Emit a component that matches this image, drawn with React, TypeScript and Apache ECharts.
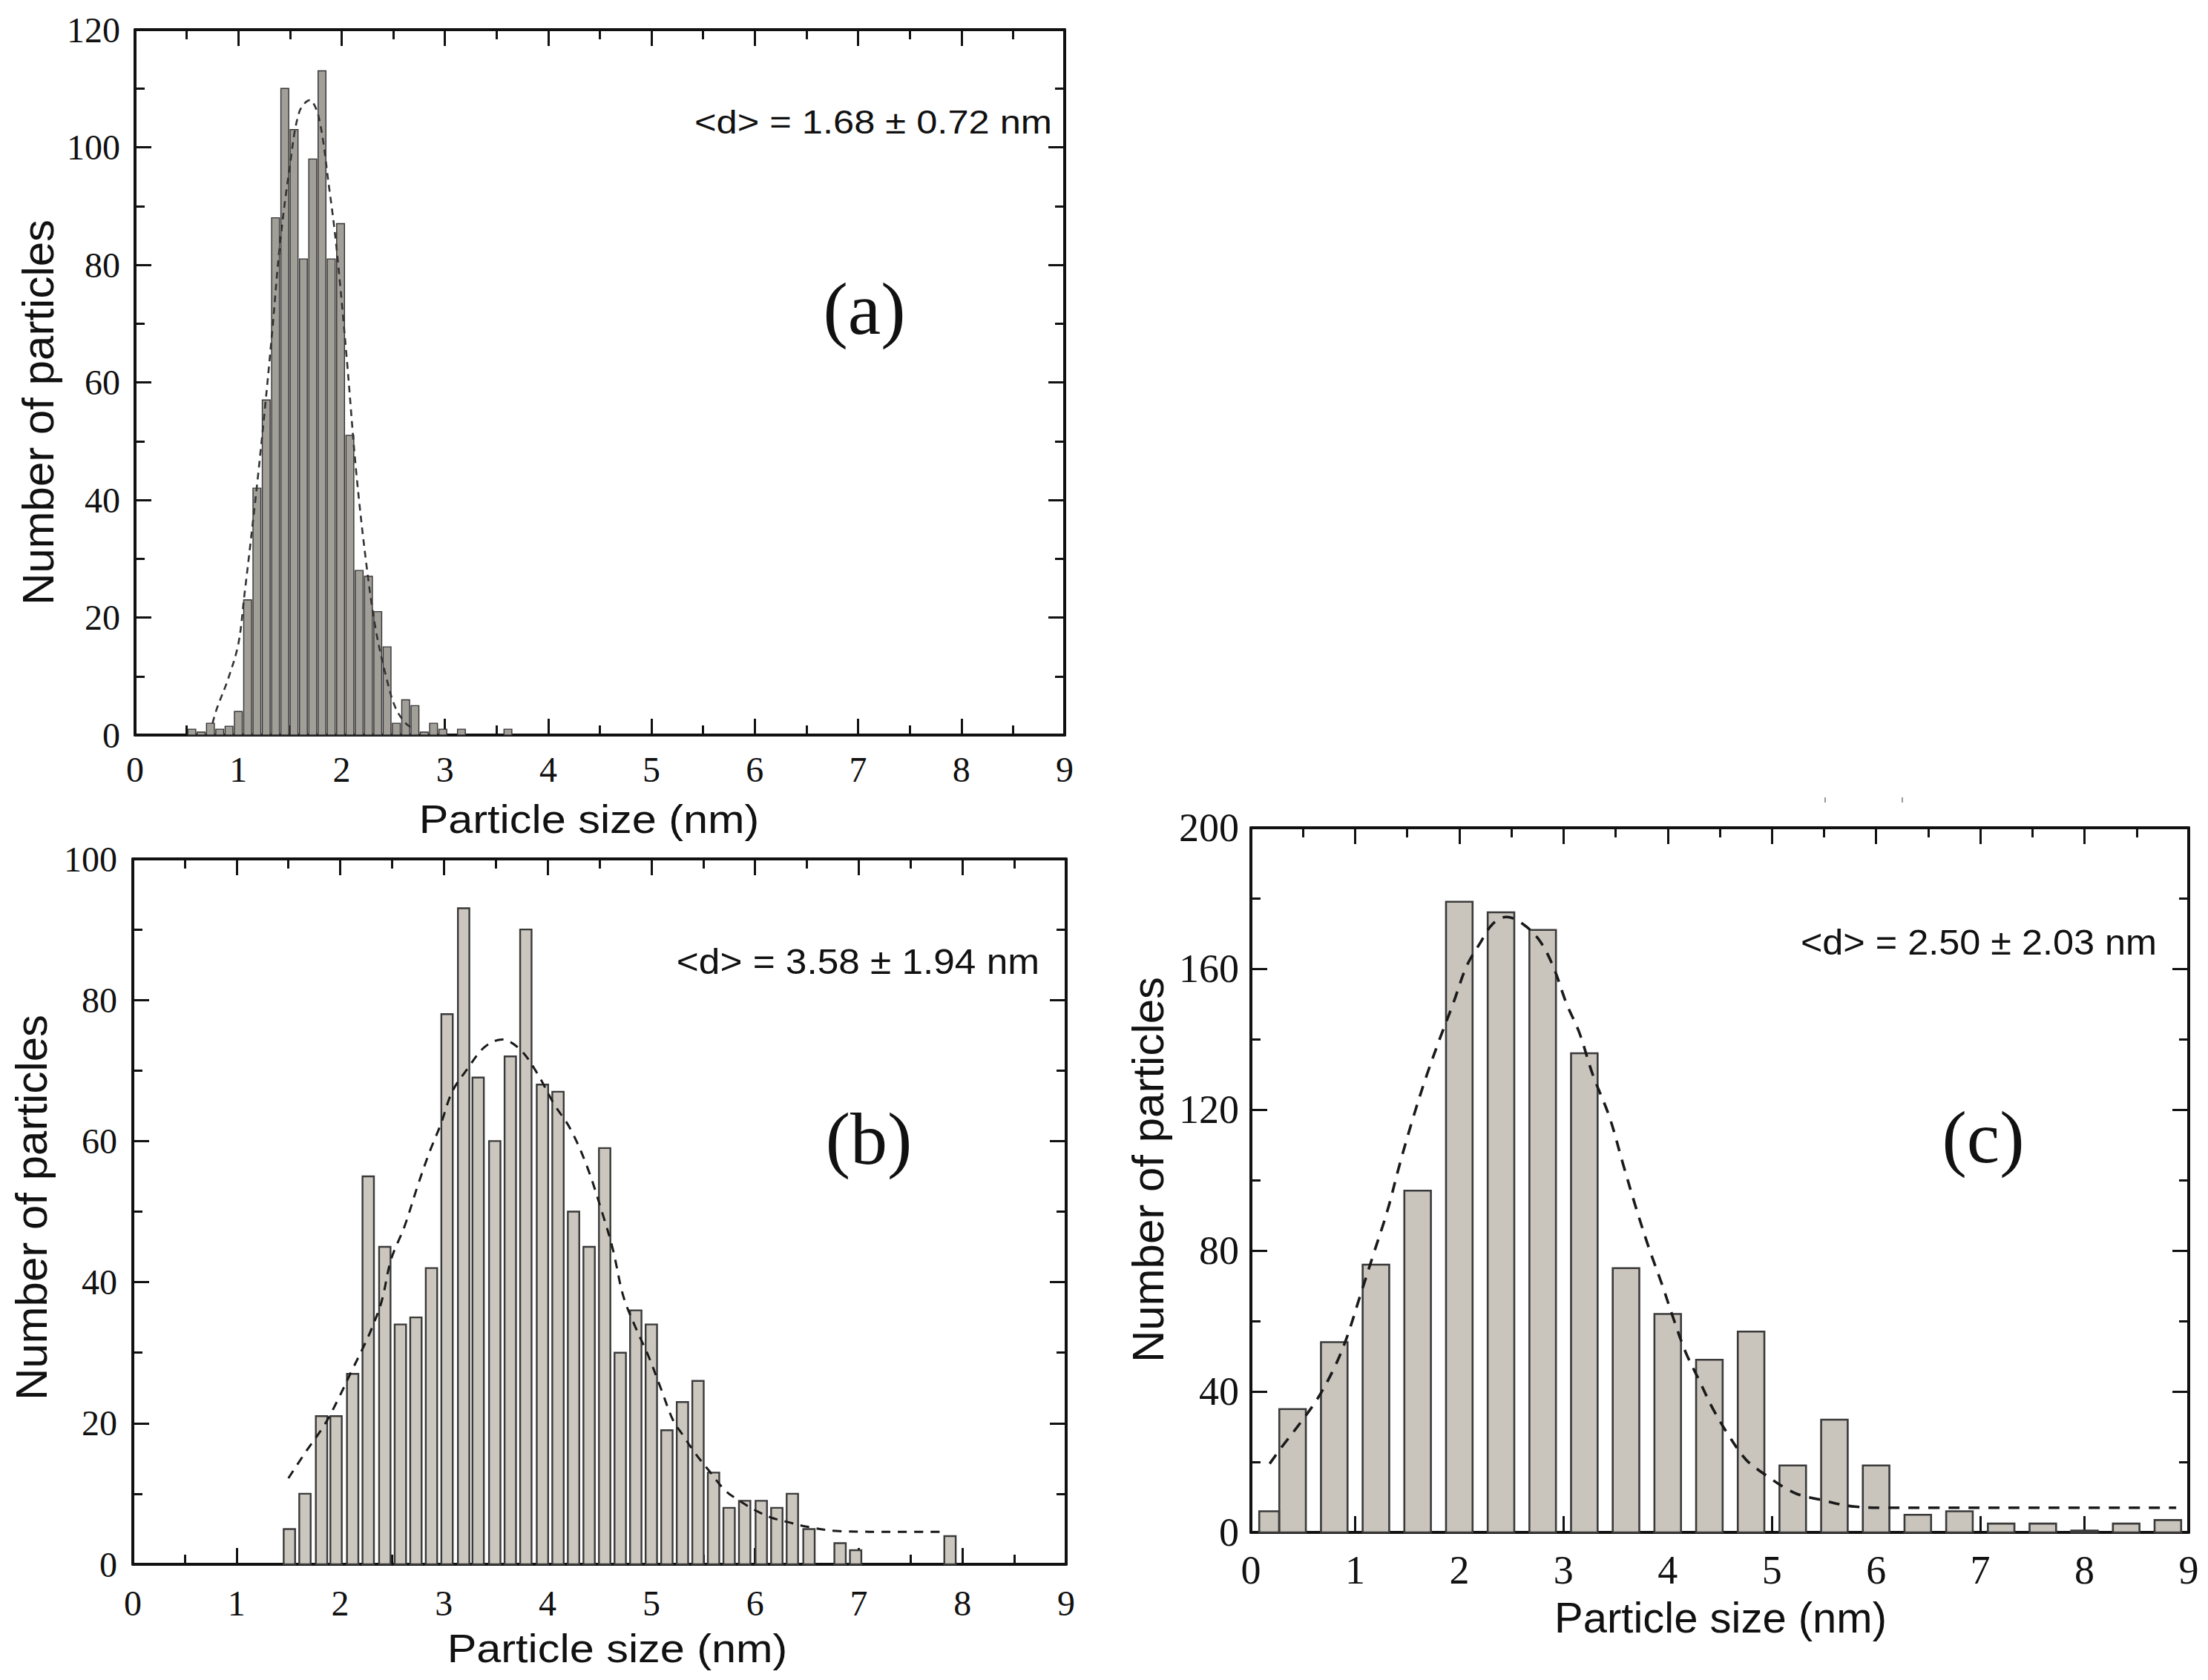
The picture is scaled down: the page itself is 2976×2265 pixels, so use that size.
import React, { useEffect, useRef } from "react";
import * as echarts from "echarts";

// ---------- Panel (a) ----------
const sizeA = [0.55, 0.64, 0.73, 0.82, 0.91, 1.0, 1.09, 1.18, 1.27, 1.36, 1.45, 1.54, 1.63, 1.72, 1.81, 1.9, 1.99, 2.08, 2.17, 2.26, 2.35, 2.44, 2.53, 2.62, 2.71, 2.8, 2.89, 2.98, 3.16, 3.61];
const countA = [1, 0.5, 2, 1, 1.5, 4, 23, 42, 57, 88, 110, 103, 81, 98, 113, 81, 87, 51, 28, 27, 21, 15, 2, 6, 5, 0.5, 2, 1, 1, 1];
const fitA = [
  [0.75, 2], [0.79, 4.4], [0.9, 9.5], [1.0, 15.5], [1.06, 24], [1.12, 33], [1.19, 44], [1.26, 56], [1.33, 69], [1.4, 83],
  [1.5, 97], [1.59, 106], [1.69, 108], [1.78, 105], [1.88, 93], [1.95, 83], [2.05, 64], [2.14, 45], [2.24, 29], [2.33, 18],
  [2.43, 10], [2.52, 4.7], [2.62, 2], [2.7, 1],
];
const noteA = "<d> = 1.68 ± 0.72 nm";

// ---------- Panel (b) ----------
const sizeB = [1.51, 1.66, 1.82, 1.96, 2.12, 2.27, 2.43, 2.58, 2.73, 2.88, 3.03, 3.19, 3.33, 3.49, 3.64, 3.79, 3.95, 4.1, 4.25, 4.4, 4.55, 4.7, 4.85, 5.0, 5.15, 5.3, 5.45, 5.6, 5.75, 5.9, 6.06, 6.21, 6.36, 6.52, 6.82, 6.97, 7.88];
const countB = [5, 10, 21, 21, 27, 55, 45, 34, 35, 42, 78, 93, 69, 60, 72, 90, 68, 67, 50, 45, 59, 30, 36, 34, 19, 23, 26, 13, 8, 9, 9, 8, 10, 5, 3, 2, 4];
const fitB = [
  [1.5, 12.2], [1.68, 16.2], [1.85, 19.8], [1.98, 23.4], [2.11, 27.4], [2.22, 30.7], [2.3, 33.3], [2.4, 37.3], [2.49, 43.2],
  [2.62, 47.9], [2.75, 53.8], [2.86, 58.4], [2.97, 62.4], [3.08, 67], [3.23, 70.3], [3.39, 73.3], [3.56, 74.4], [3.74, 72.9],
  [3.9, 69.6], [4.06, 65.3], [4.22, 61.7], [4.38, 56.4], [4.54, 49.2], [4.63, 44.6], [4.73, 38], [4.85, 33.5], [4.97, 29.6],
  [5.09, 25], [5.21, 20.4], [5.3, 18.4], [5.42, 15.8], [5.56, 13.2], [5.71, 10.5], [5.86, 8.9], [6.01, 7.6], [6.16, 6.6],
  [6.34, 5.9], [6.51, 5.3], [6.81, 4.7], [7.4, 4.6], [7.85, 4.6],
];
const noteB = "<d> = 3.58 ± 1.94 nm";

// ---------- Panel (c) ----------
const sizeC = [0.4, 0.8, 1.2, 1.6, 2.0, 2.4, 2.8, 3.2, 3.6, 4.0, 4.4, 4.8, 5.2, 5.6, 6.0, 6.4, 6.8, 7.2, 7.6, 8.0, 8.4, 8.8];
const countC = [35, 54, 76, 97, 179, 176, 171, 136, 75, 62, 49, 57, 19, 32, 19, 5, 6, 2.5, 2.5, 0.5, 2.5, 3.5];
const firstSizeC = [0.175];
const firstCountC = [6];
const fitC = [
  [0.18, 19.5], [0.29, 24], [0.48, 31.3], [0.64, 38], [0.8, 46.7], [0.92, 55.3], [1.05, 67.3], [1.18, 79.3], [1.31, 91.3],
  [1.43, 104.7], [1.56, 118], [1.69, 130], [1.82, 140.7], [1.94, 150], [2.07, 160.7], [2.2, 167.3], [2.32, 172.7],
  [2.45, 174.7], [2.61, 172.7], [2.77, 168], [2.9, 160.7], [3.03, 150], [3.15, 142], [3.28, 130], [3.44, 118], [3.57, 104.7],
  [3.69, 92.7], [3.82, 80.7], [3.95, 70], [4.04, 62], [4.17, 51.3], [4.3, 43.3], [4.43, 35.3], [4.59, 27.3], [4.75, 20.7],
  [4.92, 16.7], [5.21, 11.3], [5.46, 9.3], [5.8, 7.3], [6.1, 7], [6.54, 7], [7.46, 7], [8.88, 7],
];
const noteC = "<d> = 2.50 ± 2.03 nm";

// ---------- axis settings ----------
const xRange = { min: 0, max: 9, interval: 1 };
const yRanges = [
  { min: 0, max: 120, interval: 20 },
  { min: 0, max: 100, interval: 20 },
  { min: 0, max: 200, interval: 40 },
];
const panelLabels = ["(a)", "(b)", "(c)"];
const xTitle = "Particle size (nm)";
const yTitle = "Number of particles";

const INK = "#111";
const SERIF = "'Liberation Serif', 'Times New Roman', serif";
const SANS = "'Liberation Sans', Arial, sans-serif";

function pairs(xs: number[], ys: number[]) {
  return xs.map((x, i) => [x, ys[i]]);
}

function baseAxis(showLabel: boolean, margin: number, fontSize: number) {
  return {
    axisLine: { show: true, onZero: false, lineStyle: { color: INK, width: 4 } },
    axisTick: { show: true, inside: true, length: 22, lineStyle: { color: INK, width: 3 } },
    minorTick: { show: true, splitNumber: 2, length: 13, lineStyle: { color: INK, width: 3 } },
    splitLine: { show: false },
    minorSplitLine: { show: false },
    axisLabel: {
      show: showLabel,
      margin,
      fontFamily: SERIF,
      fontSize,
      color: INK,
      showMinLabel: true,
      showMaxLabel: true,
    },
  };
}

function barSeries(gi: number, data: number[][], widthNm: number, fill: string, stroke: string, lw: number) {
  return {
    type: "custom",
    xAxisIndex: gi * 2,
    yAxisIndex: gi * 2,
    data,
    encode: { x: 0, y: 1 },
    z: 2,
    renderItem: (_params: any, api: any) => {
      const x = api.value(0);
      const y = api.value(1);
      const p0 = api.coord([x - widthNm / 2, y]);
      const p1 = api.coord([x + widthNm / 2, 0]);
      return {
        type: "rect",
        shape: { x: p0[0], y: p0[1], width: p1[0] - p0[0], height: p1[1] - p0[1] },
        style: { fill, stroke, lineWidth: lw },
      };
    },
  };
}

function fitSeries(gi: number, data: number[][], dash: number[], width: number, color: string) {
  return {
    type: "line",
    xAxisIndex: gi * 2,
    yAxisIndex: gi * 2,
    data,
    symbol: "none",
    showSymbol: false,
    smooth: 0.35,
    z: 5,
    lineStyle: { color, width, type: dash },
  };
}

function buildOption() {
  const grids = [
    { left: 182, top: 40, width: 1253, height: 951 },
    { left: 179, top: 1158, width: 1258, height: 951 },
    { left: 1686, top: 1116, width: 1264, height: 950 },
  ];
  const xMargins = [22, 28, 24];
  const yMargins = [20, 21, 16];
  const labelSizes = [48, 48, 54];

  const xAxis: any[] = [];
  const yAxis: any[] = [];
  for (let g = 0; g < 3; g++) {
    xAxis.push({ type: "value", gridIndex: g, position: "bottom", ...xRange, ...baseAxis(true, xMargins[g], labelSizes[g]) });
    xAxis.push({ type: "value", gridIndex: g, position: "top", ...xRange, ...baseAxis(false, 0, labelSizes[g]) });
    yAxis.push({ type: "value", gridIndex: g, position: "left", ...yRanges[g], ...baseAxis(true, yMargins[g], labelSizes[g]) });
    yAxis.push({ type: "value", gridIndex: g, position: "right", ...yRanges[g], ...baseAxis(false, 0, labelSizes[g]) });
  }

  const series = [
    barSeries(0, pairs(sizeA, countA), 0.076, "#a29f99", "#333333", 1.4),
    fitSeries(0, fitA, [9, 7], 2.6, "#333"),
    barSeries(1, pairs(sizeB, countB), 0.11, "#cbc7bf", "#3a3a3a", 2.4),
    fitSeries(1, fitB, [12, 10], 3, "#1a1a1a"),
    barSeries(2, pairs(sizeC, countC), 0.255, "#c9c5bd", "#3a3a3a", 2.6),
    barSeries(2, pairs(firstSizeC, firstCountC), 0.19, "#c9c5bd", "#3a3a3a", 2.6),
    fitSeries(2, fitC, [15, 12], 3.6, "#1a1a1a"),
  ];

  const txt = (text: string, x: number, y: number, fontSize: number, family: string, align: string, extra: any = {}) => ({
    type: "text",
    x,
    y,
    z: 10,
    ...extra,
    style: { text, fontSize, fontFamily: family, fill: INK, textAlign: align, textVerticalAlign: "middle" },
  });

  const graphic = [
    // y titles
    txt(yTitle, 51, 556, 60, SANS, "center", { rotation: Math.PI / 2 }),
    txt(yTitle, 42, 1628, 60, SANS, "center", { rotation: Math.PI / 2 }),
    txt(yTitle, 1547, 1577, 60, SANS, "center", { rotation: Math.PI / 2 }),
    // x titles
    txt(xTitle, 794, 1104, 54, SANS, "center", { scaleX: 1.1 }),
    txt(xTitle, 832, 2222, 54, SANS, "center", { scaleX: 1.1 }),
    txt(xTitle, 2319, 2180, 58, SANS, "center"),
    // notes
    txt(noteA, 1418, 165, 44, SANS, "right", { scaleX: 1.15 }),
    txt(noteB, 1401, 1297, 48, SANS, "right", { scaleX: 1.07 }),
    txt(noteC, 2907, 1270, 48, SANS, "right", { scaleX: 1.05 }),
    // panel labels
    txt(panelLabels[0], 1165, 416, 100, SERIF, "center"),
    txt(panelLabels[1], 1171, 1535, 100, SERIF, "center"),
    txt(panelLabels[2], 2673, 1533, 100, SERIF, "center"),
    // small stray marks above (c)
    { type: "line", shape: { x1: 2460, y1: 1075, x2: 2460, y2: 1082 }, style: { stroke: "#999", lineWidth: 2 } },
    { type: "line", shape: { x1: 2564, y1: 1075, x2: 2564, y2: 1082 }, style: { stroke: "#999", lineWidth: 2 } },
  ];

  return {
    animation: false,
    backgroundColor: "#ffffff",
    grid: grids.map((g) => ({ ...g, containLabel: false })),
    xAxis,
    yAxis,
    series,
    graphic,
  };
}

export default function App() {
  const ref = useRef<HTMLDivElement>(null);
  useEffect(() => {
    if (!ref.current) return;
    const chart = echarts.init(ref.current, null, { renderer: "svg" });
    chart.setOption(buildOption() as any);
    return () => chart.dispose();
  }, []);
  return (
    <div
      ref={ref}
      style={{ position: "absolute", left: 0, top: 0, width: 2976, height: 2265, background: "#fff" }}
    />
  );
}
